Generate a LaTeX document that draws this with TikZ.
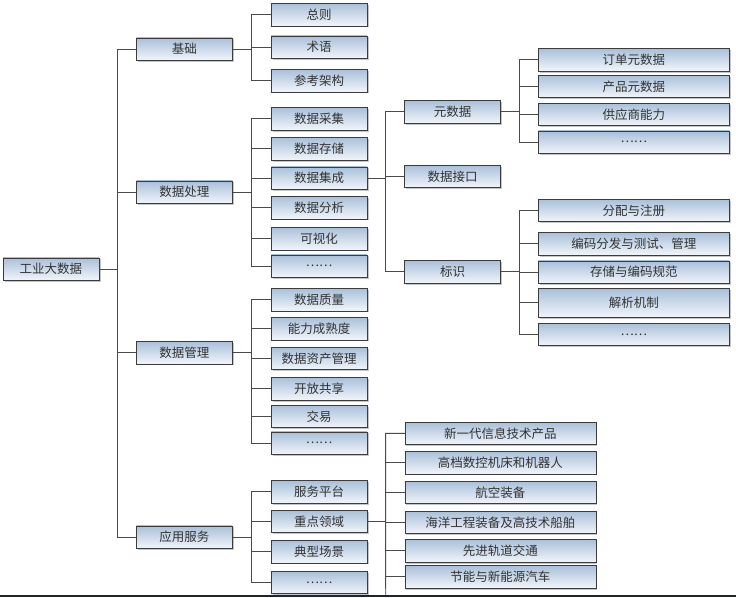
\documentclass[tikz,border=0pt]{standalone}
\usepackage{fontspec}
\usepackage{tikz}
\usetikzlibrary{shadows}
\newfontfamily\cjk{Noto Sans CJK SC}
\definecolor{boxtop}{HTML}{A9C0DA}
\definecolor{boxbottom}{HTML}{F1F5FA}
\definecolor{boxline}{HTML}{3C3C3C}
\definecolor{linkline}{HTML}{4A4A4A}
\definecolor{edgeband}{HTML}{1E2530}

\begin{document}
\begin{tikzpicture}[x=1pt,y=-1pt,-]
                \tikzstyle{box}=[rectangle,draw=boxline,top color=boxtop,bottom color=boxbottom,minimum width=96pt,minimum height=22.5pt,inner sep=0pt,font=\cjk\fontsize{12.5}{14}\selectfont,text=black!80,drop shadow={shadow xshift=1.6pt,shadow yshift=-1.6pt,fill=black!45,opacity=0.5}]
                \tikzstyle{wide}=[box,minimum width=191pt]
                \tikzstyle{link}=[draw=linkline,line width=0.9pt]
                \useasboundingbox (0,0) rectangle (736,597);
                \fill[white] (0,0) rectangle (736,597);

                \node[box] (BD) at (51,269) {工业大数据};
                \foreach \num/\y/\txt in {1/49/基础, 2/192/数据处理, 3/352.5/数据管理, 4/537/应用服务}
                        \node[box] (L-\num) at (184.3,\y) {\txt};

                \foreach \num/\y/\txt in {1/14.5/总则, 2/47/术语, 3/80.5/参考架构}
                        \node[box] (A-\num) at (319,\y) {\txt};
                \foreach \num/\y/\txt in {1/118.7/数据采集, 2/148.7/数据存储, 3/178/数据集成, 4/207.5/数据分析, 5/238.5/可视化, 6/266/……}
                        \node[box] (B-\num) at (319,\y) {\txt};
                \foreach \num/\y/\txt in {1/299.5/数据质量, 2/328.5/能力成熟度, 3/358.3/数据资产管理, 4/388.7/开放共享, 5/416.3/交易, 6/443/……}
                        \node[box] (C-\num) at (319,\y) {\txt};
                \foreach \num/\y/\txt in {1/491.7/服务平台, 2/521.3/重点领域, 3/551.5/典型场景, 4/582.3/……}
                        \node[box] (D-\num) at (319,\y) {\txt};

                \foreach \num/\y/\txt in {1/111.7/元数据, 2/176.3/数据接口, 3/271.7/标识}
                        \node[box] (E-\num) at (452.5,\y) {\txt};

                \foreach \num/\y/\txt in {1/59.7/订单元数据, 2/86.3/产品元数据, 3/114.3/供应商能力, 4/142/……}
                        \node[wide] (M-\num) at (633.8,\y) {\txt};
                \foreach \num/\y/\txt in {1/210.3/分配与注册, 2/243.7/编码分发与测试、管理, 3/272/存储与编码规范, 5/334.3/……}
                        \node[wide] (I-\num) at (633.8,\y) {\txt};
                \node[wide,minimum height=29pt] (I-4) at (633.8,302.8) {解析机制};

                \foreach \num/\y/\txt in {1/433.3/新一代信息技术产品, 2/462.5/高档数控机床和机器人, 3/492.3/航空装备, 4/522.3/海洋工程装备及高技术船舶, 5/550.7/先进轨道交通, 6/576.7/节能与新能源汽车}
                        \node[wide] (F-\num) at (500.3,\y) {\txt};
                \coordinate (cut) at (385.7,597);

                \foreach \num in {1,...,4}
                        \draw[link] (L-\num.west) -- ++(-19,0) |- (BD.east);
                \foreach \num in {1,2,3}
                        \draw[link] (A-\num.west) -- ++(-19,0) |- (L-1.east);
                \foreach \num in {1,...,6}
                        \draw[link] (B-\num.west) -- ++(-19,0) |- (L-2.east);
                \foreach \num in {1,...,6}
                        \draw[link] (C-\num.west) -- ++(-19,0) |- (L-3.east);
                \foreach \num in {1,...,4}
                        \draw[link] (D-\num.west) -- ++(-19,0) |- (L-4.east);
                \foreach \num in {1,2,3}
                        \draw[link] (E-\num.west) -- ++(-19,0) |- (B-3.east);
                \foreach \num in {1,...,4}
                        \draw[link] (M-\num.west) -- ++(-19,0) |- (E-1.east);
                \foreach \num in {1,...,5}
                        \draw[link] (I-\num.west) -- ++(-19,0) |- (E-3.east);
                \foreach \num in {1,...,6}
                        \draw[link] (F-\num.west) -- ++(-19,0) |- (D-2.east);
                \draw[link] (F-1.west) -- ++(-19,0) -- (cut);

                \fill[edgeband] (0,595) rectangle (736,597);
\end{tikzpicture}
\end{document}
